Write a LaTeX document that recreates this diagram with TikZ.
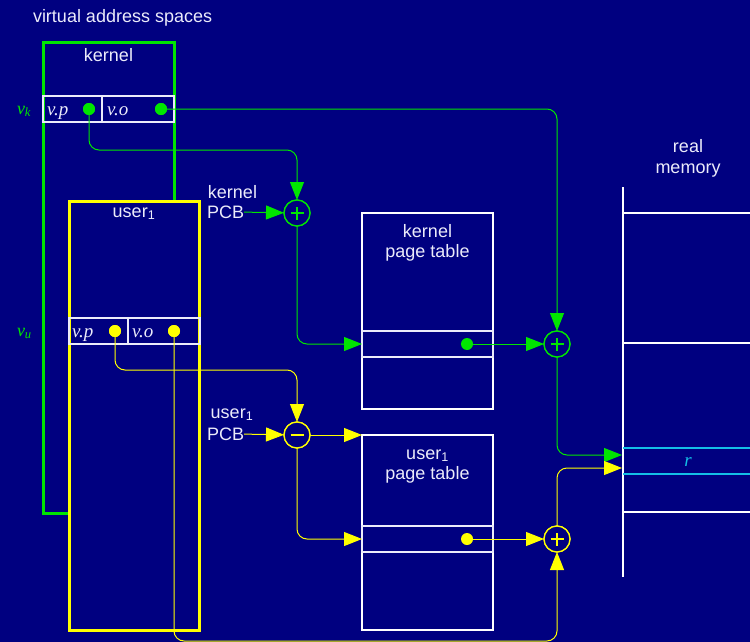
\documentclass[tikz,border=0pt]{standalone}
\usepackage{fontspec}
\setmainfont{Liberation Sans}
\newfontfamily\tms{Liberation Serif}
\usetikzlibrary{arrows.meta}
\definecolor{navy}{RGB}{0,0,128}
\definecolor{gr}{RGB}{0,230,0}
\definecolor{yl}{RGB}{255,255,0}
\definecolor{txt}{RGB}{235,235,250}
\definecolor{cy}{RGB}{20,190,230}
\begin{document}
\begin{tikzpicture}[x=1pt,y=-1pt,
  every node/.style={inner sep=0pt, outer sep=0pt},
  lbl/.style={text=txt, font=\fontsize{18}{20}\selectfont},
  vlbl/.style={text=txt, font=\tms\itshape\fontsize{19}{20}\selectfont},
  sidelbl/.style={text=gr, font=\tms\itshape\fontsize{18}{18}\selectfont},
  vspace/.style={draw, line width=3pt, minimum width=131pt},
  vrow/.style={draw=txt, line width=1.5pt, minimum height=26pt},
  dotnode/.style={circle, minimum size=12pt},
  opnode/.style={circle, draw, line width=1.3pt, fill=navy, minimum size=26pt},
  ptbox/.style={draw=white, line width=2.5pt, minimum width=131pt},
  ptrow/.style={draw=txt, line width=1.3pt, minimum width=131pt, minimum height=26pt},
  tipk/.style={-{Triangle[length=18pt,width=14pt]}},
  gline/.style={draw=gr, line width=1pt, rounded corners=10pt},
  yline/.style={draw=yl, line width=1pt, rounded corners=10pt},
  memline/.style={draw=white, line width=2.5pt},
  rline/.style={draw=cy, line width=2pt}
]
\fill[navy] (0,0) rectangle (750,642);
\useasboundingbox (0,0) rectangle (750,642);

% title
\node[lbl, anchor=base west] (title) at (33,23) {virtual address spaces};

% kernel virtual space
\node[vspace, draw=gr, minimum height=470pt] (kbox) at (108.5,278) {};
\node[lbl, anchor=base] (klbl) at (108.5,62) {kernel};
\node[vrow, minimum width=59pt] (kvp) at (72.5,109) {};
\node[vrow, minimum width=72pt] (kvo) at (138,109) {};
\node[vlbl, anchor=base west] (kvpt) at (47,115) {v.p};
\node[vlbl, anchor=base west] (kvot) at (107,115) {v.o};
\node[sidelbl, anchor=base west] (vk) at (17,114) {v\textsubscript{k}};

\node[opnode, draw=gr] (kplus) at (297,213) {};
\node[dotnode, fill=gr] (kpd) at (89,109) {};
\node[dotnode, fill=gr] (kod) at (161,109) {};

% user virtual space
\node[vspace, draw=yl, fill=navy, minimum width=130pt, minimum height=429pt] (ubox) at (134,415.5) {};
\node[lbl, anchor=base] (ulbl) at (134,217) {user\textsubscript{1}};
\node[vrow, minimum width=59pt] (uvp) at (98.5,331) {};
\node[vrow, minimum width=72pt] (uvo) at (164,331) {};
\node[vlbl, anchor=base west] (uvpt) at (72,337) {v.p};
\node[vlbl, anchor=base west] (uvot) at (132,337) {v.o};
\node[sidelbl, anchor=base west] (vu) at (17,336) {v\textsubscript{u}};

% page tables
\node[ptbox, minimum height=196pt] (kpt) at (427.5,311) {};
\node[ptrow] (kptrow) at (427.5,344) {};
\node[lbl, anchor=base] (kptl1) at (427.5,237) {kernel};
\node[lbl, anchor=base] (kptl2) at (427.5,257) {page table};
\node[ptbox, minimum height=195pt] (upt) at (427.5,532.5) {};
\node[ptrow] (uptrow) at (427.5,539) {};
\node[lbl, anchor=base] (uptl1) at (427.5,459) {user\textsubscript{1}};
\node[lbl, anchor=base] (uptl2) at (427.5,479) {page table};

% PCB labels
\node[lbl, anchor=base] (kpcbl) at (232.5,198) {kernel};
\node[lbl, anchor=base west] (kpcb) at (207,218) {PCB};
\node[lbl, anchor=base] (upcbl) at (232,418) {user\textsubscript{1}};
\node[lbl, anchor=base west] (upcb) at (207,440) {PCB};

% operators
\node[opnode, draw=yl] (uminus) at (297,435) {};
\node[opnode, draw=gr] (gplus) at (557,344) {};
\node[opnode, draw=yl] (yplus) at (557,539) {};

% real memory
\coordinate (rmtop) at (623,187);
\coordinate (rmbot) at (623,577);
\draw[memline] (rmtop) -- (rmbot);
\draw[memline] (623,213) -- (750,213);
\draw[memline] (623,343) -- (750,343);
\draw[memline] (623,512) -- (750,512);
\draw[rline] (623,448) -- (750,448);
\draw[rline] (623,474) -- (750,474);
\node[text=cy, font=\tms\itshape\fontsize{19}{20}\selectfont, anchor=base] (rlbl) at (688,466) {r};
\node[lbl, anchor=base] (rm1) at (688,152) {real};
\node[lbl, anchor=base] (rm2) at (688,173) {memory};
\coordinate (rmg) at (622,455);
\coordinate (rmy) at (622,468);

% green connectors
\draw[gline, tipk] (kpd.center) -- ++(0,41) -| (kplus);
\draw[gline, tipk] (kpcb) -- (kplus);
\draw[gline, tipk] (kplus) |- (kptrow.west);
\draw[gline, tipk] (kod.center) -| (gplus);
\node[dotnode, fill=gr] (kptd) at (467,344) {};
\draw[gline, tipk] (kptd) -- (gplus);
\draw[gline, tipk] (gplus) |- (rmg);

% yellow connectors
\node[dotnode, fill=yl] (upd) at (115,331) {};
\node[dotnode, fill=yl] (uod) at (174,331) {};
\draw[yline, tipk] (upd.center) -- ++(0,39) -| (uminus);
\draw[yline, tipk] (upcb) -- (uminus);
\draw[yline, tipk] (uminus) -- (upt.north west);
\draw[yline, tipk] (uminus) |- (uptrow.west);
\node[dotnode, fill=yl] (uptd) at (467,539) {};
\draw[yline, tipk] (uptd) -- (yplus);
\draw[yline, tipk] (uod.center) -- ++(0,310) -| (yplus);
\draw[yline, tipk] (yplus) |- (rmy);

% redraw dots and operators on top
\node[dotnode, fill=gr] at (kpd) {};
\node[dotnode, fill=gr] at (kod) {};
\node[dotnode, fill=yl] at (upd) {};
\node[dotnode, fill=yl] at (uod) {};
\node[opnode, draw=gr] at (kplus) {};
\node[opnode, draw=yl] at (uminus) {};
\node[opnode, draw=gr] at (gplus) {};
\node[opnode, draw=yl] at (yplus) {};

% signs
\draw[gr, line width=1.3pt] ([xshift=-6.5pt]kplus.center) -- ([xshift=6.5pt]kplus.center);
\draw[gr, line width=1.3pt] ([yshift=-6.5pt]kplus.center) -- ([yshift=6.5pt]kplus.center);
\draw[gr, line width=1.3pt] ([xshift=-6.5pt]gplus.center) -- ([xshift=6.5pt]gplus.center);
\draw[gr, line width=1.3pt] ([yshift=-6.5pt]gplus.center) -- ([yshift=6.5pt]gplus.center);
\draw[yl, line width=1.3pt] ([xshift=-6.5pt]yplus.center) -- ([xshift=6.5pt]yplus.center);
\draw[yl, line width=1.3pt] ([yshift=-6.5pt]yplus.center) -- ([yshift=6.5pt]yplus.center);
\draw[yl, line width=1.3pt] ([xshift=-6.5pt]uminus.center) -- ([xshift=6.5pt]uminus.center);
\end{tikzpicture}
\end{document}
